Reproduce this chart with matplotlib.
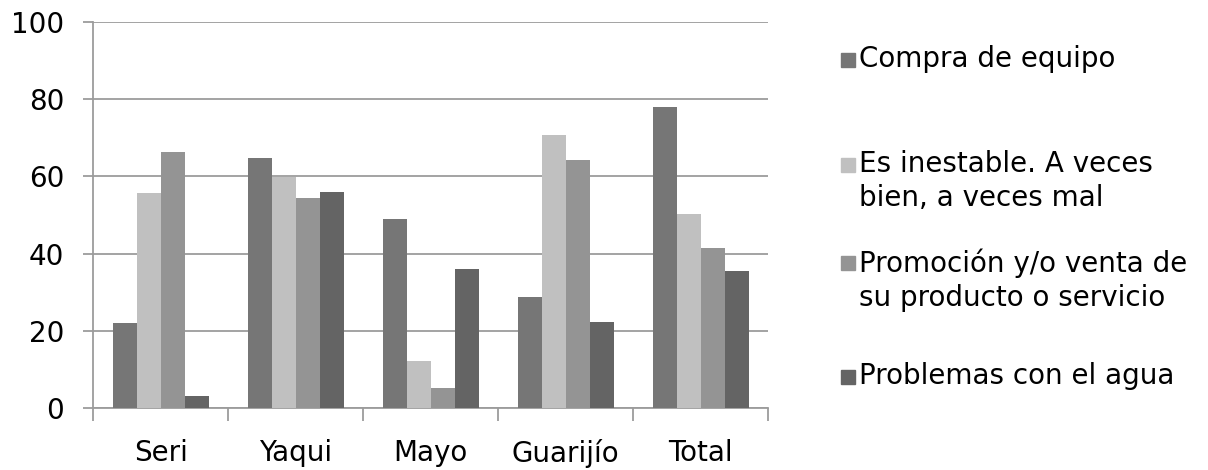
import numpy as np
import matplotlib.pyplot as plt
from matplotlib.patches import Rectangle

# data
grupos = ["Seri", "Yaqui", "Mayo", "Guarijío", "Total"]
compra = [22.0, 64.7, 48.9, 28.7, 77.9]
inestable = [55.6, 59.9, 12.3, 70.7, 50.3]
promocion = [66.4, 54.3, 5.2, 64.2, 41.5]
agua = [3.3, 55.9, 36.0, 22.3, 35.6]

series = ["Compra de equipo",
          "Es inestable. A veces\nbien, a veces mal",
          "Promoción y/o venta de\nsu producto o servicio",
          "Problemas con el agua"]
valores = [compra, inestable, promocion, agua]
colores = ["#767676", "#c0c0c0", "#949494", "#646464"]

fig = plt.figure(figsize=(12.08, 4.70), dpi=100)
ax = fig.add_axes([0.0772, 0.1313, 0.5586, 0.8225])

x = np.arange(len(grupos))
w = 0.178
for i, (vals, c) in enumerate(zip(valores, colores)):
    ax.bar(x + (i - 1.5) * w, vals, w, color=c, zorder=3)

grid_c = "#9c9c9c"
ax.set_ylim(0, 100)
ax.set_xlim(-0.5, len(grupos) - 0.5)
ax.set_yticks(range(0, 101, 20))
ax.yaxis.grid(True, color=grid_c, lw=1.3, zorder=0)
ax.tick_params(axis="y", length=7, width=1.3, color=grid_c, pad=14, labelsize=20)

ax.set_xticks(np.arange(-0.5, len(grupos)), [])
ax.set_xticks(x, grupos, minor=True)
ax.tick_params(axis="x", which="major", length=9, width=1.3, color=grid_c)
ax.tick_params(axis="x", which="minor", length=0, pad=22, labelsize=20)

for s in ["top", "right"]:
    ax.spines[s].set_visible(False)
for s in ["left", "bottom"]:
    ax.spines[s].set_color(grid_c)
    ax.spines[s].set_linewidth(1.3)

# legend drawn by hand so the boxes sit on the first line of text
leg_y = [60, 165, 263, 377]   # pixel rows from the top
for lab, c, yy in zip(series, colores, leg_y):
    yf = 1 - yy / 470
    fig.patches.append(Rectangle((841 / 1208, yf - 7 / 470), 14 / 1208, 14 / 470,
                                 transform=fig.transFigure, color=c))
    fig.text(859 / 1208, yf + 15 / 470, lab, fontsize=20, va="top", ha="left",
             linespacing=1.28)

plt.savefig("out.png", dpi=100)
